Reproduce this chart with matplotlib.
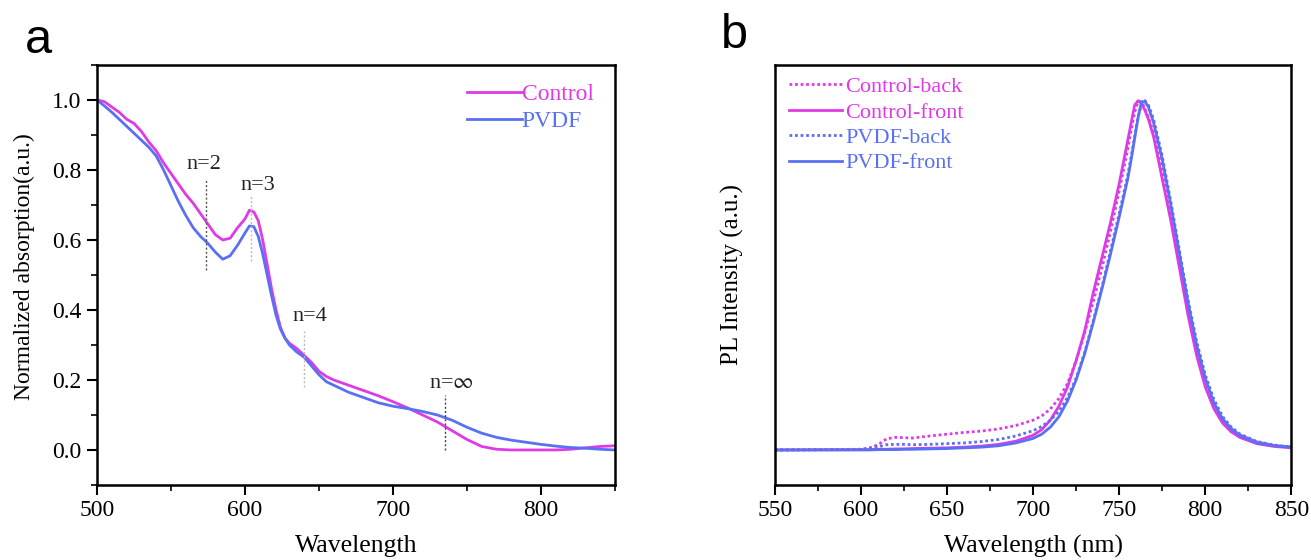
import matplotlib.pyplot as plt
from matplotlib.ticker import MultipleLocator

plt.rcParams['font.family'] = ['Liberation Serif', 'DejaVu Serif']
plt.rcParams['mathtext.fontset'] = 'stix'

col_control = '#DE3AE6'
col_pvdf = '#5A70F2'

# --- panel a: absorption ---
abs_wl = [500, 505, 510, 515, 520, 525, 530, 535, 540, 545, 550, 555, 560, 565, 570,
          575, 580, 585, 590, 595, 600, 603, 606, 609, 612, 615, 618, 621, 624, 627,
          630, 635, 640, 645, 650, 655, 660, 670, 680, 690, 700, 710, 720, 730, 740,
          750, 760, 770, 780, 790, 800, 810, 820, 830, 840, 850]
abs_control = [1.0, 0.995, 0.98, 0.965, 0.945, 0.933, 0.91, 0.88, 0.855, 0.82, 0.79, 0.76,
               0.73, 0.705, 0.675, 0.645, 0.615, 0.60, 0.605, 0.635, 0.66, 0.685, 0.68,
               0.655, 0.60, 0.53, 0.46, 0.40, 0.35, 0.32, 0.305, 0.29, 0.27, 0.25, 0.225,
               0.21, 0.20, 0.185, 0.17, 0.155, 0.138, 0.12, 0.10, 0.08, 0.055, 0.03, 0.01,
               0.002, 0.0, 0.0, 0.0, 0.0, 0.002, 0.006, 0.01, 0.012]
abs_pvdf = [1.0, 0.983, 0.965, 0.945, 0.925, 0.905, 0.885, 0.865, 0.84, 0.80, 0.755, 0.71,
            0.67, 0.635, 0.61, 0.59, 0.565, 0.545, 0.555, 0.585, 0.62, 0.64, 0.638,
            0.61, 0.56, 0.50, 0.44, 0.385, 0.345, 0.32, 0.30, 0.28, 0.265, 0.24, 0.215,
            0.195, 0.185, 0.165, 0.15, 0.135, 0.125, 0.118, 0.11, 0.10, 0.085, 0.065,
            0.048, 0.036, 0.028, 0.022, 0.016, 0.011, 0.007, 0.005, 0.002, 0.0]

# peak markers: label, wavelength, line bottom, line top, text x, text y, line colour
peak_labels = ['n=2', 'n=3', 'n=4', r'n=$\infty$']
peak_wl = [573.5, 604, 640, 735.5]
peak_ylo = [0.515, 0.54, 0.18, 0.0]
peak_yhi = [0.775, 0.73, 0.34, 0.156]
peak_tx = [572.5, 609, 644, 739.5]
peak_ty = [0.815, 0.755, 0.38, 0.19]
peak_col = ['#555555', '#bbbbbb', '#bbbbbb', '#444444']

# --- panel b: PL ---
pl_wl = [550, 600, 605, 610, 615, 620, 625, 630, 640, 650, 660, 670, 680, 690, 700, 705,
         710, 715, 720, 725, 730, 735, 740, 745, 750, 755, 757, 759, 761, 763, 765, 767,
         770, 775, 780, 785, 790, 795, 800, 805, 810, 815, 820, 830, 840, 850]
pl_control_back = [0.0, 0.002, 0.006, 0.015, 0.032, 0.036, 0.035, 0.034, 0.04, 0.045,
                   0.05, 0.054, 0.06, 0.07, 0.085, 0.097, 0.117, 0.147, 0.19, 0.255,
                   0.335, 0.425, 0.52, 0.625, 0.74, 0.86, 0.915, 0.965, 0.995, 0.995,
                   0.975, 0.95, 0.905, 0.80, 0.685, 0.55, 0.415, 0.295, 0.20, 0.132,
                   0.09, 0.062, 0.043, 0.023, 0.013, 0.008]
pl_control_front = [0.0, 0.001, 0.001, 0.002, 0.002, 0.003, 0.003, 0.004, 0.005, 0.006,
                    0.008, 0.011, 0.016, 0.025, 0.042, 0.058, 0.085, 0.125, 0.18, 0.255,
                    0.34, 0.45, 0.55, 0.65, 0.76, 0.885, 0.935, 0.985, 0.998, 0.99,
                    0.97, 0.945, 0.895, 0.775, 0.655, 0.52, 0.385, 0.27, 0.18, 0.118,
                    0.077, 0.052, 0.036, 0.018, 0.01, 0.006]
pl_pvdf_back = [0.0, 0.001, 0.004, 0.009, 0.015, 0.016, 0.016, 0.015, 0.016, 0.018, 0.02,
                0.024, 0.03, 0.04, 0.055, 0.067, 0.085, 0.11, 0.15, 0.205, 0.28, 0.37,
                0.465, 0.57, 0.675, 0.785, 0.84, 0.895, 0.95, 0.99, 0.998, 0.985,
                0.945, 0.84, 0.71, 0.57, 0.43, 0.31, 0.215, 0.145, 0.096, 0.066, 0.046,
                0.024, 0.014, 0.009]
pl_pvdf_front = [0.0, 0.0, 0.0, 0.001, 0.001, 0.001, 0.002, 0.002, 0.003, 0.004, 0.006,
                 0.008, 0.012, 0.02, 0.033, 0.045, 0.065, 0.095, 0.14, 0.20, 0.275, 0.365,
                 0.46, 0.56, 0.665, 0.775, 0.83, 0.89, 0.95, 0.995, 0.995, 0.98, 0.935,
                 0.83, 0.70, 0.56, 0.42, 0.30, 0.205, 0.135, 0.088, 0.06, 0.041, 0.02,
                 0.012, 0.008]

fig = plt.figure(figsize=(13.11, 5.6), dpi=100)
ax1 = fig.add_axes([0.074, 0.134, 0.395, 0.750])
ax2 = fig.add_axes([0.591, 0.134, 0.394, 0.750])

ax1.plot(abs_wl, abs_control, color=col_control, lw=2, label='Control')
ax1.plot(abs_wl, abs_pvdf, color=col_pvdf, lw=2, label='PVDF')
for lab, wl, lo, hi, tx, ty, c in zip(peak_labels, peak_wl, peak_ylo, peak_yhi,
                                      peak_tx, peak_ty, peak_col):
    ax1.plot([wl, wl], [lo, hi], color=c, lw=1, ls=(0, (1.5, 1.5)))
    ax1.text(tx, ty, lab, fontsize=16, ha='center', va='center', color='#222222')

ax1.set_xlim(500, 850)
ax1.set_ylim(-0.1, 1.1)
ax1.xaxis.set_major_locator(MultipleLocator(100))
ax1.xaxis.set_minor_locator(MultipleLocator(50))
ax1.yaxis.set_major_locator(MultipleLocator(0.2))
ax1.yaxis.set_minor_locator(MultipleLocator(0.1))
ax1.yaxis.set_major_formatter(plt.FormatStrFormatter('%.1f'))
ax1.set_xlabel('Wavelength', fontsize=18.5, labelpad=10)
ax1.set_ylabel('Normalized absorption(a.u.)', fontsize=17)
ax1.yaxis.set_label_coords(-0.12, 0.52)
leg1 = ax1.legend(loc='upper right', bbox_to_anchor=(1.0, 1.007), frameon=False,
                  fontsize=17, handlelength=2.3, handletextpad=0.0, labelspacing=0.25)
for t, c in zip(leg1.get_texts(), [col_control, col_pvdf]):
    t.set_color(c)

ax2.plot(pl_wl, pl_control_back, color=col_control, lw=2, ls=(0, (1, 1)), label='Control-back')
ax2.plot(pl_wl, pl_control_front, color=col_control, lw=2, label='Control-front')
ax2.plot(pl_wl, pl_pvdf_back, color=col_pvdf, lw=2, ls=(0, (1, 1)), label='PVDF-back')
ax2.plot(pl_wl, pl_pvdf_front, color=col_pvdf, lw=2, label='PVDF-front')
ax2.set_xlim(550, 850)
ax2.set_ylim(-0.1, 1.1)
ax2.xaxis.set_major_locator(MultipleLocator(50))
ax2.xaxis.set_minor_locator(MultipleLocator(25))
ax2.set_yticks([])
ax2.set_xlabel('Wavelength (nm)', fontsize=18.5, labelpad=10)
ax2.set_ylabel('PL Intensity (a.u.)', fontsize=18)
ax2.yaxis.set_label_coords(-0.06, 0.5)
leg2 = ax2.legend(loc='upper left', bbox_to_anchor=(-0.012, 1.02), frameon=False,
                  fontsize=16, handlelength=2.4, handletextpad=0.15, labelspacing=0.22)
for t, c in zip(leg2.get_texts(), [col_control, col_control, col_pvdf, col_pvdf]):
    t.set_color(c)

for ax in (ax1, ax2):
    for s in ax.spines.values():
        s.set_linewidth(1.8)
    ax.tick_params(which='major', direction='out', length=7, width=1.5, labelsize=17, pad=4)
    ax.tick_params(which='minor', direction='out', length=4, width=1.2)

fig.text(0.019, 0.905, 'a', fontsize=35, family='Liberation Sans')
fig.text(0.550, 0.915, 'b', fontsize=35, family='Liberation Sans')

fig.savefig('out.png', dpi=100)
